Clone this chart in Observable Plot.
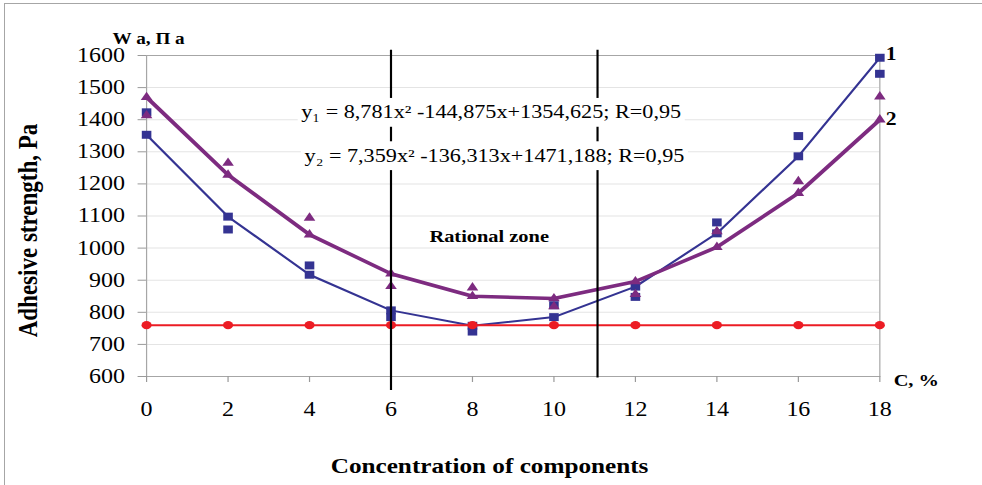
<!DOCTYPE html>
<html>
<head>
<meta charset="utf-8">
<script src="https://cdn.jsdelivr.net/npm/d3@7"></script>
<script src="https://cdn.jsdelivr.net/npm/@observablehq/plot@0.6"></script>
<style>
html, body { margin: 0; padding: 0; background: #fff; }
#wrap { position: relative; width: 982px; height: 485px; overflow: hidden; }
#wrap svg { position: absolute; left: 0; top: 0; }
#border { position: absolute; left: 4px; top: 3px; right: -10px; bottom: -10px;
  border-left: 1px solid #a6a6a6; border-top: 1px solid #a6a6a6; pointer-events: none; }
</style>
</head>
<body>
<div id="wrap"><div id="border"></div></div>
<script>
// ---- data ----
const concentration = [0, 2, 4, 6, 8, 10, 12, 14, 16, 18];
const fitted1   = [1353, 1098, 917, 806, 758, 785, 880, 1046, 1286, 1593];
const measured1 = [1423, 1058, 946, 785, 740, 822, 848, 1080, 1349, 1543];
const fitted2   = [1470, 1228, 1042, 920, 850, 843, 896, 1003, 1171, 1400];
const measured2 = [1413, 1265, 1094, 881, 877, 818, 856, 1052, 1208, 1472];
const control   = [760, 760, 760, 760, 760, 760, 760, 760, 760, 760];
const yTicks = [600, 700, 800, 900, 1000, 1100, 1200, 1300, 1400, 1500, 1600];
const xTicks = [0, 2, 4, 6, 8, 10, 12, 14, 16, 18];
const zoneBounds = [6, 11.07];
const seriesNames = ["1", "2"];
const equations = [
  "y\u2081 = 8,781x\u00B2 -144,875x+1354,625; R=0,95",
  "y\u2082 = 7,359x\u00B2 -136,313x+1471,188; R=0,95"
];

const rows = concentration.map((c, i) => ({
  c, f1: fitted1[i], m1: measured1[i], f2: fitted2[i], m2: measured2[i], ctl: control[i]
}));
const last = concentration.length - 1;
const endLabels = [
  {c: concentration[last], v: fitted1[last], t: seriesNames[0]},
  {c: concentration[last], v: fitted2[last], t: seriesNames[1]}
];

const BLUE = "#343392", PURPLE = "#7d2b80", RED = "#ec1c24";
const W = 818, H = 485;

const chart = Plot.plot({
  width: W, height: H,
  marginLeft: 121.6, marginRight: 85.6, marginTop: 55, marginBottom: 109,
  x: {domain: [0, 18]},
  y: {domain: [600, 1600]},
  style: {fontFamily: "'Liberation Serif', 'Times New Roman', serif", background: "transparent", color: "black", overflow: "visible"},
  marks: [
    Plot.gridY(yTicks.slice(1, -1), {stroke: "#e4e4e4", strokeOpacity: 1}),
    Plot.frame({stroke: "#a6a6a6"}),
    Plot.axisY(yTicks, {tickSize: 7, tickPadding: 11, fontSize: 20, stroke: "#999", fill: "black", label: null, tickFormat: d => String(d)}),
    Plot.axisX(xTicks, {tickSize: 6, tickPadding: 19, fontSize: 20, stroke: "#999", fill: "black", label: null, tickFormat: d => String(d)}),

    Plot.line(rows, {x: "c", y: "f1", stroke: BLUE, strokeWidth: 2}),
    Plot.dot(rows, {x: "c", y: "f1", symbol: "square", r: 4.5, fill: BLUE, stroke: "none"}),
    Plot.line(rows, {x: "c", y: "f2", stroke: PURPLE, strokeWidth: 3.5}),
    Plot.dot(rows, {x: "c", y: "f2", symbol: "triangle", r: 3.6, fill: PURPLE, stroke: "none"}),
    Plot.dot(rows, {x: "c", y: "m1", symbol: "square", r: 4.5, fill: BLUE, stroke: "none"}),
    Plot.dot(rows, {x: "c", y: "m2", symbol: "triangle", r: 3.6, fill: PURPLE, stroke: "none"}),

    Plot.line(rows, {x: "c", y: "ctl", stroke: RED, strokeWidth: 2}),
    Plot.dot(rows, {x: "c", y: "ctl", r: 4.2, fill: RED, stroke: "none"}),

    Plot.ruleX(zoneBounds, {y1: 1616, y2: (d, i) => (i === 0 ? 556 : 595), stroke: "black", strokeWidth: 1.8}),

    Plot.text(equations, {x: (d, i) => (i === 0 ? 8.46 : 8.54), y: (d, i) => (i === 0 ? 1423 : 1288),
      text: d => d, fontSize: 18.5, fill: "black"}),
    Plot.text(["Rational zone"], {x: 8.41, y: 1036, text: d => d, fontSize: 17, fontWeight: "bold"}),
    Plot.text(endLabels, {x: "c", y: "v", text: "t", textAnchor: "start", dx: 5,
      fontSize: 18, fontWeight: "bold"}),

    Plot.text(["W a, \u041F a"], {frameAnchor: "top-left", dx: 1.7, dy: -16.3, textAnchor: "middle", lineAnchor: "middle", text: d => d, fontSize: 16, fontWeight: "bold"}),
    Plot.text(["C, %"], {frameAnchor: "bottom-right", dx: 11.5, dy: 4, textAnchor: "start", lineAnchor: "middle", text: d => d, fontSize: 17, fontWeight: "bold"}),
    Plot.text(["Concentration of components"], {frameAnchor: "bottom", dx: -19.7, dy: 90, textAnchor: "middle", lineAnchor: "middle", text: d => d, fontSize: 21, fontWeight: "bold"}),
    Plot.text(["Adhesive strength, Pa"], {frameAnchor: "left", rotate: -90, textAnchor: "middle", lineAnchor: "middle", dx: -98.3, dy: 14.5, text: d => d, fontSize: 23, fontWeight: "bold"})
  ]
});

// stretch horizontally like the reference rendering
chart.setAttribute("width", 982);
chart.setAttribute("height", H);
chart.setAttribute("viewBox", `0 0 ${W} ${H}`);
chart.setAttribute("preserveAspectRatio", "none");
chart.style.width = "982px";
chart.style.height = H + "px";
chart.style.maxWidth = "none";
const wrap = document.getElementById("wrap");
wrap.insertBefore(chart, wrap.firstChild);

// white boxes behind the equations (they interrupt the zone lines)
d3.select(chart).selectAll("text").each(function() {
  const t = this.textContent || "";
  if (!t.startsWith("y\u2081") && !t.startsWith("y\u2082")) return;
  const b = this.getBBox();
  const r = document.createElementNS("http://www.w3.org/2000/svg", "rect");
  r.setAttribute("x", b.x - 3);
  r.setAttribute("y", b.y - 4);
  r.setAttribute("width", b.width + 6);
  r.setAttribute("height", b.height + 8);
  r.setAttribute("fill", "white");
  const tr = this.getAttribute("transform");
  if (tr) r.setAttribute("transform", tr);
  this.parentNode.insertBefore(r, this);
});
// endpoint label "1" sits slightly above its point
d3.select(chart).selectAll("text").each(function() {
  if (this.textContent === "1" && this.getAttribute("text-anchor") !== "middle") this.setAttribute("dy", "-0.18em");
});
</script>
</body>
</html>
